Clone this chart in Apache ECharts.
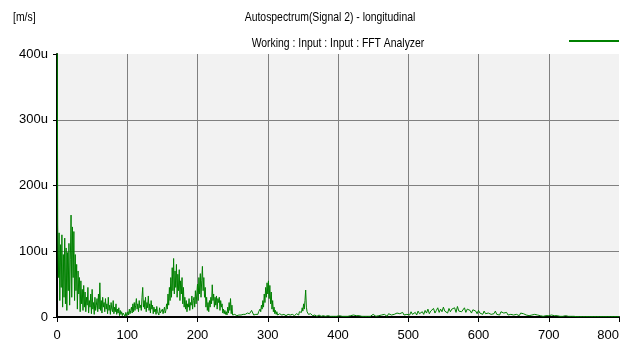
<!DOCTYPE html>
<html>
<head>
<meta charset="utf-8">
<script src="https://cdn.jsdelivr.net/npm/echarts@6/dist/echarts.min.js"></script>
<style>
  html, body { margin: 0; padding: 0; background: #fff; }
  #chart { width: 627px; height: 350px; }
</style>
</head>
<body>
<div id="chart"></div>
<script>
// spectrum 0..399 Hz, 1 Hz steps (values in u = micro m/s)
const lowStep = 1;
const lowAmp = [
  600, 140, 60, 128, 25, 110, 45, 125, 15, 95, 30, 120, 20, 105, 10, 98, 40, 112, 18, 88,
  155, 30, 137, 60, 130, 25, 95, 40, 80, 12, 70, 35, 60, 8, 55, 20, 42, 10, 48, 15,
  38, 8, 30, 18, 45, 6, 25, 15, 35, 5, 42, 12, 22, 4, 30, 10, 18, 28, 8, 35,
  12, 52, 10, 25, 6, 30, 15, 22, 8, 28, 12, 20, 5, 30, 10, 18, 4, 22, 12, 8,
  25, 5, 15, 8, 20, 4, 12, 6, 14, 2, 10, 4, 8, 2, 6, 3, 5, 1, 7, 2,
  4, 8, 3, 12, 5, 10, 15, 6, 20, 8, 22, 10, 18, 28, 12, 20, 8, 25, 14, 18,
  10, 30, 45, 15, 25, 12, 30, 8, 22, 14, 32, 10, 20, 6, 25, 12, 18, 5, 15, 8,
  12, 4, 16, 8, 10, 3, 14, 6, 9, 4, 12, 5, 8, 15, 6, 10, 20, 12, 35, 18,
  45, 25, 60, 30, 75, 40, 89, 35, 70, 45, 80, 30, 65, 40, 72, 25, 55, 35, 60, 20,
  45, 15, 30, 12, 25, 8, 20, 15, 28, 10, 22, 18, 32, 12, 25, 30, 15, 40, 20, 35,
  50, 25, 60, 35, 66, 30, 55, 77, 40, 60, 30, 45, 15, 30, 10, 22, 8, 25, 15, 30,
  20, 49, 25, 35, 15, 30, 18, 32, 12, 28, 22, 30, 10, 25, 15, 20, 6, 12, 5, 10,
  4, 8, 3, 15, 6, 22, 10, 28, 5, 18, 3, 6, 2, 4, 3, 5, 2, 4, 2, 3,
  2, 4, 3, 5, 2, 4, 3, 6, 4, 5, 3, 6, 4, 7, 5, 8, 6, 10, 8, 12,
  3, 5, 2, 4, 3, 6, 4, 8, 5, 12, 8, 18, 12, 25, 15, 35, 22, 45, 30, 52,
  35, 55, 28, 48, 20, 38, 12, 25, 8, 15, 5, 10, 4, 8, 3, 6, 2, 5, 3, 4,
  3, 5, 2, 4, 3, 6, 2, 5, 3, 4, 2, 5, 3, 6, 2, 4, 3, 5, 2, 4,
  3, 5, 4, 6, 3, 8, 5, 10, 7, 14, 9, 20, 12, 25, 41, 15, 8, 6, 4, 6,
  3, 5, 2, 4, 2, 3, 1, 3, 2, 4, 1, 2, 1, 3, 1, 2, 1, 2, 1, 2,
  1, 2, 1, 2, 1, 1, 2, 1, 2, 1, 1, 2, 1, 1, 2, 1, 1, 2, 1, 1
];

// spectrum 400..800 Hz, 2 Hz steps
const highStart = 400;
const highStep = 2;
const highAmp = [
  1, 2, 1, 1, 3, 1, 2, 1, 1, 2,
  1, 3, 1, 2, 1, 2, 4, 1, 2, 1,
  2, 1, 3, 1, 2, 4, 2, 1, 3, 2,
  1, 3, 2, 4, 2, 1, 5, 2, 3, 2,
  4, 2, 6, 3, 5, 2, 7, 3, 5, 4,
  6, 3, 8, 4, 5, 7, 3, 9, 5, 6,
  8, 4, 10, 6, 12, 5, 9, 7, 13, 6,
  10, 14, 7, 12, 8, 15, 9, 11, 6, 13,
  8, 12, 10, 14, 7, 16, 9, 12, 8, 11,
  14, 7, 12, 9, 10, 6, 11, 8, 9, 5,
  10, 6, 8, 4, 9, 5, 7, 6, 8, 4,
  7, 5, 9, 4, 6, 3, 8, 5, 6, 4,
  7, 3, 6, 4, 5, 3, 6, 4, 5, 2,
  6, 3, 5, 4, 3, 5, 2, 4, 3, 2,
  4, 2, 3, 5, 2, 3, 1, 4, 2, 3,
  2, 1, 3, 1, 2, 1, 2, 1, 1, 2,
  1, 1, 2, 1, 1, 0.5, 1, 0.5, 1, 0.5,
  0.5, 0.5, 0.5, 0.5, 0.5, 0.5, 0.5, 0.5, 0.5, 0.5,
  0.5, 0.5, 0.5, 0.5, 0.5, 0.5, 0.5, 0.5, 0.5, 0.5,
  0.5, 0.5, 0.5, 0.5, 0.5, 0.5, 0.5, 0.5, 0.5, 0.5,
  0.5
];

const xTicks = [0, 100, 200, 300, 400, 500, 600, 700, 800];
const yTicks = [0, 100, 200, 300, 400];

const points = lowAmp.map((v, i) => [i * lowStep, v])
  .concat(highAmp.map((v, i) => [highStart + i * highStep, v]));

const font = "'Liberation Sans', Arial, sans-serif";
const chart = echarts.init(document.getElementById("chart"));

chart.setOption({
  animation: false,
  backgroundColor: "#fff",
  graphic: [
    { type: "text", x: 13, y: 11, scaleX: 0.8, style: { text: "[m/s]", font: "13px " + font, fill: "#000" } },
    { type: "text", x: 330, y: 11, scaleX: 0.8, style: { text: "Autospectrum(Signal 2) - longitudinal", font: "13px " + font, fill: "#000", textAlign: "center" } },
    { type: "text", x: 338, y: 37, scaleX: 0.8, style: { text: "Working : Input : Input : FFT Analyzer", font: "13px " + font, fill: "#000", textAlign: "center" } }
  ],
  legend: {
    right: 3,
    top: 35,
    icon: "rect",
    itemWidth: 50,
    itemHeight: 2,
    formatter: () => "",
    data: ["Signal 2"]
  },
  grid: {
    left: 57,
    right: 8,
    top: 54,
    bottom: 33,
    outerBoundsMode: "none",
    show: true,
    backgroundColor: "#f2f2f2",
    borderWidth: 0
  },
  xAxis: {
    type: "value",
    min: xTicks[0],
    max: xTicks[xTicks.length - 1],
    interval: 100,
    axisLine: { lineStyle: { color: "#000", width: 2 } },
    axisTick: { show: true, length: 5, lineStyle: { color: "#000" } },
    axisLabel: { color: "#000", fontSize: 13, fontFamily: font, margin: 12, alignMaxLabel: "right" },
    splitLine: { show: true, showMinLine: false, showMaxLine: false, lineStyle: { color: "#808080", width: 1 } }
  },
  yAxis: {
    type: "value",
    min: yTicks[0],
    max: yTicks[yTicks.length - 1],
    interval: 100,
    axisLine: { show: true, lineStyle: { color: "#000", width: 2 } },
    axisTick: { show: true, length: 4, lineStyle: { color: "#000" } },
    axisLabel: {
      color: "#000", fontSize: 13, fontFamily: font, margin: 9,
      formatter: v => (v === 0 ? "0" : v + "u")
    },
    splitLine: { show: true, showMinLine: false, showMaxLine: false, lineStyle: { color: "#808080", width: 1 } }
  },
  series: [{
    name: "Signal 2",
    type: "line",
    data: points,
    showSymbol: false,
    clip: true,
    itemStyle: { color: "#008000" },
    lineStyle: { color: "#008000", width: 1 }
  }]
});
</script>
</body>
</html>
